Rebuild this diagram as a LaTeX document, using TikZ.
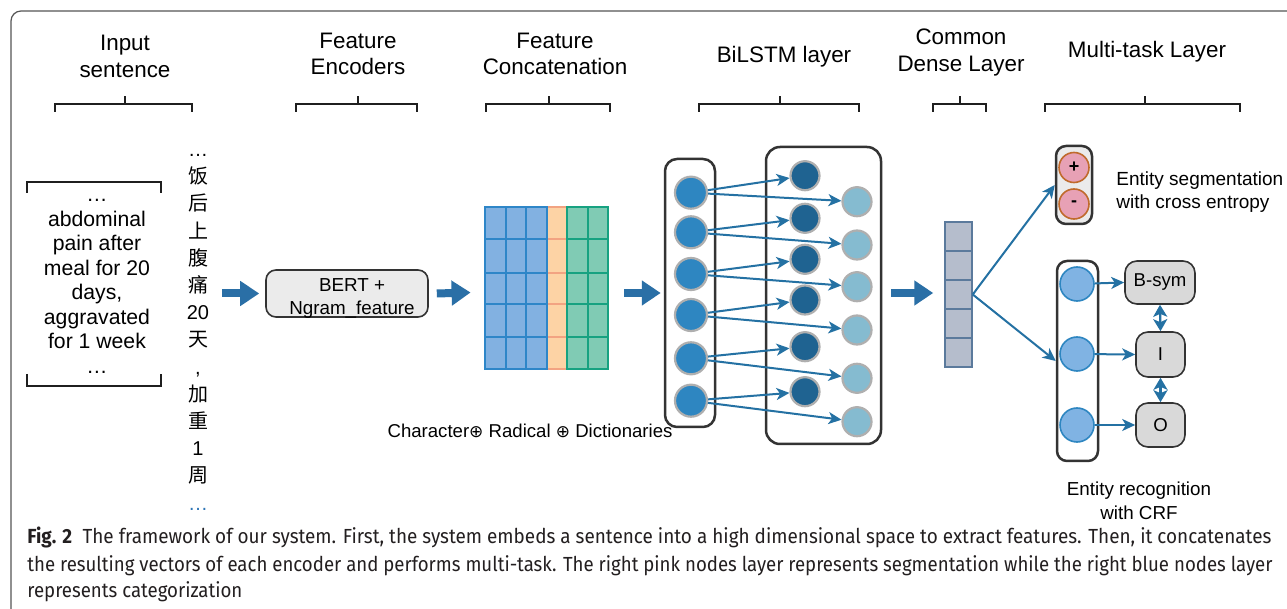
\documentclass[tikz,border=0pt]{standalone}
\usepackage{fontspec}
\usepackage{graphicx}
\setmainfont{Liberation Sans}
\newfontfamily\cjk{Noto Sans CJK SC}
\newfontfamily\capfont{Fira Sans}
\newfontfamily\dv{DejaVu Sans}
\usetikzlibrary{arrows.meta,calc}
\definecolor{framec}{HTML}{555555}
\definecolor{arrowblue}{HTML}{2A6FA6}
\definecolor{thinblue}{HTML}{2471A3}
\definecolor{cellblue}{HTML}{82B1E1}
\definecolor{cellblueline}{HTML}{2E86C8}
\definecolor{cellorange}{HTML}{FDD3A5}
\definecolor{cellorangeline}{HTML}{F2A382}
\definecolor{cellgreen}{HTML}{80CBB4}
\definecolor{cellgreenline}{HTML}{17A281}
\definecolor{lstmA}{HTML}{2E86C1}
\definecolor{lstmB}{HTML}{1F6391}
\definecolor{lstmC}{HTML}{85BBD0}
\definecolor{ringgray}{HTML}{AFAFAF}
\definecolor{densefill}{HTML}{B5BDCC}
\definecolor{denseline}{HTML}{5B7A9C}
\definecolor{pinkfill}{HTML}{E7A1B5}
\definecolor{pinkline}{HTML}{C06A2C}
\definecolor{recfill}{HTML}{80B3E3}
\definecolor{recline}{HTML}{2E86C1}
\definecolor{boxgray}{HTML}{D9D9D9}
\definecolor{lightbox}{HTML}{EBEBEB}
\definecolor{darkline}{HTML}{333333}
\definecolor{captext}{HTML}{231F20}
\definecolor{dotblue}{HTML}{2E75B6}
\begin{document}
\begin{tikzpicture}[x=0.5pt,y=-0.5pt,
  header/.style={font=\fontsize{11.2}{13.3}\selectfont, align=center, inner sep=0pt},
  bracket/.style={line width=1pt, draw=black!88},
  sbracket/.style={line width=1.2pt, draw=black!88},
  sent/.style={font=\fontsize{10.6}{12.25}\selectfont, align=center, inner sep=0pt},
  cjkcol/.style={font=\fontsize{10}{13.6}\selectfont, align=center, inner sep=0pt},
  bigarrow/.style={line width=4pt, draw=arrowblue, -{Triangle[length=9.5pt,width=12pt]}},
  thinarrow/.style={line width=1pt, draw=thinblue, -{Stealth[length=6.5pt,width=6pt,inset=1.8pt]}},
  dblarrow/.style={line width=1.1pt, draw=thinblue, {Stealth[length=6pt,width=7pt,inset=1.5pt]}-{Stealth[length=6pt,width=7pt,inset=1.5pt]}},
  graybox/.style={draw=darkline, line width=0.8pt, fill=lightbox, rounded corners=5pt, inner sep=0pt},
  container/.style={draw=darkline, line width=1.25pt, rounded corners=6pt, inner sep=0pt},
  circA/.style={circle, fill=lstmA, draw=ringgray, line width=1.1pt, minimum size=16pt, inner sep=0pt},
  circB/.style={circle, fill=lstmB, draw=ringgray, line width=1.1pt, minimum size=14.5pt, inner sep=0pt},
  circC/.style={circle, fill=lstmC, draw=ringgray, line width=1.1pt, minimum size=14.5pt, inner sep=0pt},
  pinkc/.style={circle, fill=pinkfill, draw=pinkline, line width=0.8pt, minimum size=15pt, inner sep=0pt, font=\bfseries\fontsize{9}{10}\selectfont},
  recc/.style={circle, fill=recfill, draw=recline, line width=0.8pt, minimum size=17pt, inner sep=0pt},
  tagbox/.style={draw=darkline, line width=0.8pt, fill=boxgray, rounded corners=6pt, inner sep=0pt, font=\fontsize{9.3}{11}\selectfont},
  densec/.style={draw=denseline, line width=0.75pt, fill=densefill, minimum width=13.5pt, minimum height=14.5pt, inner sep=0pt},
  bluecell/.style={draw=cellblueline, fill=cellblue, line width=1.3pt},
  orangecell/.style={draw=cellorangeline, fill=cellorange, line width=1.3pt},
  greencell/.style={draw=cellgreenline, fill=cellgreen, line width=1.3pt},
  lbl/.style={inner sep=0pt, font=\fontsize{9.5}{11.2}\selectfont},
  capline/.style={inner sep=0pt, anchor=base west, text=captext, font=\capfont\fontsize{10.2}{12}\selectfont}
]
\useasboundingbox (0,0) rectangle (1287,609);
\fill[white] (0,0) rectangle (1287,609);
% frame
\draw[framec, line width=0.6pt, rounded corners=5pt] (11,680) -- (11,11) -- (1360,11);

% headers
\node[header] (hInput) at (125,58.7) {Input\strut\\sentence\strut};
\node[header] (hEnc) at (358,56.2) {Feature\strut\\Encoders\strut};
\node[header] (hCat) at (555,56.2) {Feature\strut\\Concatenation\strut};
\node[header] (hLstm) at (784,56.7) {BiLSTM layer\strut};
\node[header] (hDense) at (961,52.7) {Common\strut\\Dense Layer\strut};
\node[header] (hMulti) at (1147,51.7) {Multi-task Layer\strut};

% brackets under headers
\foreach \l/\m/\r in {55/125/192, 296/358/417, 486/549/610, 699/780/859, 933/960/986, 1045/1145/1240}
  \draw[bracket] (\l,112) -- (\l,104) -- (\r,104) -- (\r,112) (\m,104) -- (\m,96);

% input sentence
\draw[sbracket] (27,193) -- (27,182) -- (161,182) -- (161,193);
\draw[sbracket] (27,374) -- (27,386) -- (161,386) -- (161,374);
\node[sent] (sent) at (97,282.4) {\strut…\\abdominal\\pain after\\meal for 20\\days,\\aggravated\\for 1 week\\…\strut};

% chinese column
\node[cjkcol] (cn) at (198,327.8) {\strut…\\{\cjk 饭}\strut\\{\cjk 后}\strut\\{\cjk 上}\strut\\{\cjk 腹}\strut\\{\cjk 痛}\strut\\20\strut\\{\cjk 天}\strut\\,\strut\\{\cjk 加}\strut\\{\cjk 重}\strut\\1\strut\\{\cjk 周}\strut\\\textcolor{dotblue}{…}\strut};

% BERT box
\node[graybox, minimum width=81pt, minimum height=23.5pt] (bert) at (347,293.5) {};
\node[inner sep=0pt, align=center, font=\fontsize{9.4}{11.3}\selectfont] (bertt) at (352,298.5) {BERT +\strut\\Ngram\_feature\strut};

% concatenation grid
\node[inner sep=0pt, minimum width=61.5pt, minimum height=81pt] (grid) at (546.5,288) {};
\foreach \ya/\yb in {207/239,239/273,273/304,304/337,337/369}{
  \draw[orangecell] (547,\ya) rectangle (567,\yb);
}
\foreach \xa/\xb in {485/506,506/526,526/547}
  \foreach \ya/\yb in {207/239,239/273,273/304,304/337,337/369}
    \draw[bluecell] (\xa,\ya) rectangle (\xb,\yb);
\foreach \xa/\xb in {567/588,588/608}
  \foreach \ya/\yb in {207/239,239/273,273/304,304/337,337/369}
    \draw[greencell] (\xa,\ya) rectangle (\xb,\yb);
\node[inner sep=0pt, font=\fontsize{9.3}{11.2}\selectfont] (catlbl) at (530,433.5) {Character{\dv\fontsize{8.5}{10}\selectfont ⊕} Radical {\dv\fontsize{8.5}{10}\selectfont ⊕} Dictionaries\strut};

% BiLSTM
\node[container, minimum width=25pt, minimum height=134pt] (lstmL) at (690,293) {};
\node[container, minimum width=57.5pt, minimum height=148.5pt, rounded corners=7pt] (lstmR) at (823.5,295.5) {};
\foreach \i/\y in {1/192.7,2/232.3,3/274,4/315,5/358.3,6/400.7}
  \node[circA] (a\i) at (691,\y) {};
\foreach \i/\y in {1/175.7,2/218.3,3/259.3,4/300,5/346.7,6/391.7}
  \node[circB] (b\i) at (805,\y) {};
\foreach \i/\y in {1/201.7,2/245,3/286.7,4/330,5/378.3,6/421.7}
  \node[circC] (c\i) at (857,\y) {};
\foreach \i in {1,...,6}{
  \draw[thinarrow] (a\i) -- (b\i);
  \draw[thinarrow] (a\i) -- (c\i);
}

% dense layer
\foreach \i/\y in {1/236.5,2/265.5,3/294.5,4/323.5,5/352.5}
  \node[densec] (d\i) at (958.5,\y) {};

% multitask: segmentation
\node[graybox, line width=1.25pt, minimum width=18pt, minimum height=39pt] (seg) at (1074,185) {};
\node[pinkc] (pplus) at (1074,167.5) {+};
\node[pinkc] (pminus) at (1074,204) {-};
\node[lbl, anchor=west, align=left] (seglbl) at (1116,192.4) {Entity segmentation\strut\\with cross entropy\strut};

% multitask: recognition
\node[container, minimum width=20.5pt, minimum height=100pt, rounded corners=5pt] (rec) at (1077.5,361) {};
\node[recc] (r1) at (1077,284) {};
\node[recc] (r2) at (1077,354) {};
\node[recc] (r3) at (1077,425) {};
\node[tagbox, minimum width=35pt, minimum height=21.5pt] (bsym) at (1160,282.5) {B-sym};
\node[tagbox, minimum width=24.5pt, minimum height=22.5pt] (inode) at (1160.5,354.5) {I};
\node[tagbox, minimum width=24.5pt, minimum height=22pt] (onode) at (1160.5,425) {O};
\node[lbl, align=center, font=\fontsize{9.4}{12}\selectfont] (reclbl) at (1139,503.2) {Entity recognition\strut\\with CRF\strut};

\draw[thinarrow] (r1) -- (bsym.west);
\draw[thinarrow] (r2) -- (inode.west);
\draw[thinarrow] (r3) -- (onode.west);
\draw[dblarrow] (bsym.south) -- (inode.north);
\draw[dblarrow] (inode.south) -- (onode.north);

\draw[thinarrow] (d3.east) -- (seg.west);
\draw[thinarrow] (d3.east) -- (rec.west);

% big arrows
\draw[bigarrow] ($(bert.west)+(-43,0)$) -- ($(bert.west)+(-6,0)$);
\draw[bigarrow] ($(bert.east)+(8,0)$) -- ($(grid.west)+(-14,4.5)$);
\draw[bigarrow] ($(grid.east)+(16,5)$) -- ($(lstmL.west)+(-3,0)$);
\draw[bigarrow] ($(lstmR.east)+(9,-2.5)$) -- ($(d3.west)+(-11,-1.5)$);

% caption
\node[capline] (cap1) at (27,544) {\resizebox{622pt}{\height}{\textbf{Fig. 2}\hspace{0.55em}The framework of our system. First, the system embeds a sentence into a high dimensional space to extract features. Then, it concatenates}};
\node[capline] (cap2) at (27,571) {\resizebox{622.5pt}{\height}{the resulting vectors of each encoder and performs multi-task. The right pink nodes layer represents segmentation while the right blue nodes layer}};
\node[capline] (cap3) at (27,597) {\resizebox{107.5pt}{\height}{represents categorization}};
\end{tikzpicture}
\end{document}
